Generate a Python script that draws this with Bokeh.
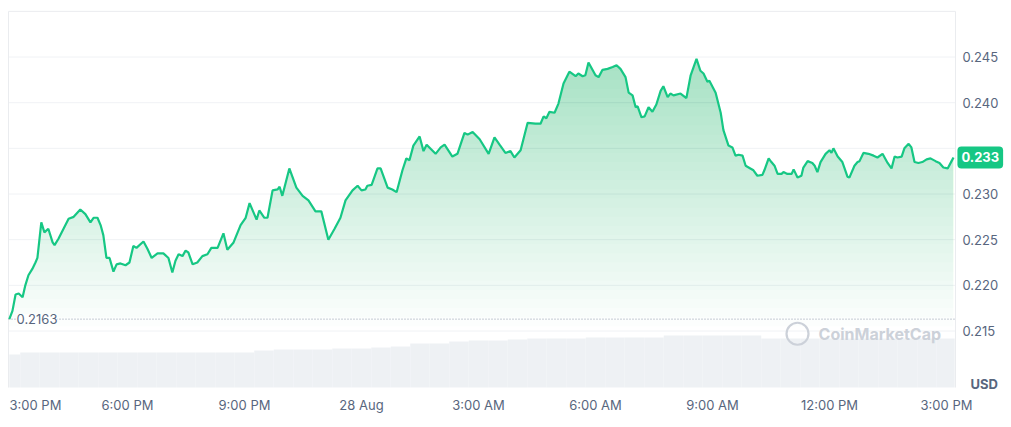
import numpy as np
from bokeh.plotting import figure
from bokeh.models import Range1d, Label
from bokeh.core.properties import value
from bokeh.embed import file_html
from bokeh.resources import INLINE

# ---- data (hours since 27 Aug 3:00 PM, price in USD) ----
hours = [
    -0.03, 0.05, 0.13, 0.21, 0.31, 0.38, 0.46, 0.56, 0.64, 0.69,
    0.79, 0.87, 0.97, 1.08, 1.13, 1.23, 1.36, 1.49, 1.62, 1.79,
    1.92, 2.05, 2.13, 2.23, 2.31, 2.38, 2.46, 2.54, 2.64, 2.72,
    2.82, 2.95, 3.05, 3.15, 3.23, 3.41, 3.51, 3.62, 3.77, 3.92,
    4.05, 4.15, 4.23, 4.31, 4.41, 4.49, 4.56, 4.67, 4.79, 4.92,
    5.05, 5.15, 5.31, 5.46, 5.56, 5.72, 5.90, 6.03, 6.13, 6.31,
    6.38, 6.51, 6.59, 6.72, 6.85, 6.90, 6.97, 7.15, 7.33, 7.49,
    7.64, 7.82, 7.97, 8.15, 8.31, 8.46, 8.59, 8.77, 8.90, 9.00,
    9.10, 9.15, 9.26, 9.41, 9.49, 9.67, 9.79, 9.90, 10.05, 10.15,
    10.23, 10.33, 10.49, 10.59, 10.67, 10.90, 11.03, 11.13, 11.33, 11.46,
    11.64, 11.72, 11.85, 12.03, 12.26, 12.41, 12.54, 12.69, 12.82, 12.92,
    13.08, 13.26, 13.46, 13.59, 13.67, 13.74, 13.82, 13.95, 14.05, 14.18,
    14.33, 14.49, 14.56, 14.67, 14.74, 14.82, 15.00, 15.08, 15.18, 15.31,
    15.44, 15.54, 15.64, 15.77, 15.85, 15.95, 16.03, 16.08, 16.18, 16.26,
    16.36, 16.46, 16.56, 16.67, 16.74, 16.85, 16.92, 17.00, 17.18, 17.33,
    17.44, 17.59, 17.69, 17.77, 17.87, 17.92, 18.08, 18.21, 18.28, 18.41,
    18.51, 18.59, 18.67, 18.77, 18.85, 18.97, 19.05, 19.15, 19.28, 19.33,
    19.44, 19.51, 19.59, 19.67, 19.77, 19.82, 19.92, 20.03, 20.08, 20.18,
    20.28, 20.33, 20.44, 20.56, 20.62, 20.69, 20.77, 20.90, 21.00, 21.05,
    21.10, 21.21, 21.33, 21.38, 21.46, 21.51, 21.64, 21.72, 21.77, 21.87,
    22.00, 22.13, 22.23, 22.36, 22.49, 22.59, 22.67, 22.74, 22.85, 22.92,
    23.03, 23.10, 23.18, 23.28, 23.38, 23.49, 23.59, 23.72, 23.82, 23.92,
    24.03, 24.13, 24.18,
]
prices = [
    0.2163, 0.2172, 0.2190, 0.2191, 0.2187, 0.2200, 0.2211, 0.2218, 0.2225, 0.2230,
    0.2269, 0.2258, 0.2262, 0.2247, 0.2244, 0.2251, 0.2262, 0.2273, 0.2275, 0.2283,
    0.2278, 0.2269, 0.2274, 0.2274, 0.2266, 0.2255, 0.2230, 0.2230, 0.2215, 0.2223,
    0.2224, 0.2222, 0.2225, 0.2243, 0.2241, 0.2248, 0.2240, 0.2230, 0.2235, 0.2235,
    0.2230, 0.2214, 0.2227, 0.2234, 0.2232, 0.2238, 0.2236, 0.2223, 0.2225, 0.2232,
    0.2234, 0.2241, 0.2241, 0.2257, 0.2239, 0.2247, 0.2266, 0.2274, 0.2290, 0.2272,
    0.2282, 0.2274, 0.2274, 0.2304, 0.2305, 0.2308, 0.2298, 0.2328, 0.2307, 0.2298,
    0.2293, 0.2281, 0.2281, 0.2250, 0.2262, 0.2274, 0.2293, 0.2304, 0.2309, 0.2304,
    0.2305, 0.2309, 0.2310, 0.2328, 0.2328, 0.2307, 0.2305, 0.2302, 0.2326, 0.2339,
    0.2337, 0.2353, 0.2363, 0.2347, 0.2354, 0.2344, 0.2351, 0.2354, 0.2341, 0.2344,
    0.2367, 0.2365, 0.2368, 0.2360, 0.2344, 0.2362, 0.2354, 0.2345, 0.2347, 0.2340,
    0.2348, 0.2378, 0.2377, 0.2377, 0.2385, 0.2383, 0.2390, 0.2389, 0.2399, 0.2421,
    0.2434, 0.2429, 0.2432, 0.2429, 0.2430, 0.2444, 0.2430, 0.2428, 0.2436, 0.2437,
    0.2439, 0.2441, 0.2437, 0.2428, 0.2411, 0.2408, 0.2395, 0.2396, 0.2384, 0.2385,
    0.2395, 0.2390, 0.2398, 0.2413, 0.2418, 0.2406, 0.2410, 0.2408, 0.2410, 0.2405,
    0.2430, 0.2448, 0.2435, 0.2432, 0.2423, 0.2424, 0.2411, 0.2389, 0.2370, 0.2353,
    0.2351, 0.2342, 0.2343, 0.2342, 0.2331, 0.2328, 0.2326, 0.2320, 0.2321, 0.2326,
    0.2339, 0.2335, 0.2331, 0.2322, 0.2322, 0.2324, 0.2322, 0.2322, 0.2327, 0.2318,
    0.2320, 0.2329, 0.2336, 0.2334, 0.2331, 0.2324, 0.2335, 0.2344, 0.2348, 0.2345,
    0.2350, 0.2341, 0.2335, 0.2329, 0.2319, 0.2318, 0.2331, 0.2335, 0.2336, 0.2345,
    0.2344, 0.2342, 0.2340, 0.2344, 0.2334, 0.2328, 0.2341, 0.2340, 0.2341, 0.2350,
    0.2355, 0.2351, 0.2335, 0.2334, 0.2335, 0.2338, 0.2339, 0.2336, 0.2334, 0.2329,
    0.2328, 0.2336, 0.2340,
]
vol_hours = [
    0.0, 0.5, 1.0, 1.5, 2.0, 2.5, 3.0, 3.5, 4.0, 4.5,
    5.0, 5.5, 6.0, 6.5, 7.0, 7.5, 8.0, 8.5, 9.0, 9.5,
    10.0, 10.5, 11.0, 11.5, 12.0, 12.5, 13.0, 13.5, 14.0, 14.5,
    15.0, 15.5, 16.0, 16.5, 17.0, 17.5, 18.0, 18.5, 19.0, 19.5,
    20.0, 20.5, 21.0, 21.5, 22.0, 22.5, 23.0, 23.5, 24.0,
]
volumes_m = [
    99, 105, 105, 105, 105, 105, 105, 105, 105, 105,
    105, 105, 105, 111, 114, 114, 114, 117, 117, 120,
    123, 132, 132, 138, 141, 141, 144, 147, 147, 147,
    150, 150, 150, 150, 156, 156, 156, 156, 156, 147,
    147, 147, 147, 147, 147, 147, 147, 147, 147,
]
x_tick_hours = [0, 3, 6, 9, 12, 15, 18, 21, 24]
x_tick_labels = ["3:00 PM", "6:00 PM", "9:00 PM", "28 Aug", "3:00 AM",
                 "6:00 AM", "9:00 AM", "12:00 PM", "3:00 PM"]
y_ticks = [0.215, 0.22, 0.225, 0.23, 0.235, 0.24, 0.245]
y_top = 0.250
open_price = 0.2163
last_price_text = "0.233"

n = min(len(hours), len(prices))
hours = hours[:n]
prices = prices[:n]

GREEN = "#16c784"
FILL_GREEN = "#14c072"
GREY = "#58667e"
GRID = "#f0f2f5"
BORDER = "#eaecef"
FONT = "Inter"

# chart area limits (x in hours, y in USD)
X_LEFT, X_RIGHT = -0.051, 24.23
Y_BOTTOM = 0.20881

W, H = 1005, 421
p = figure(width=W, height=H, output_backend="svg", toolbar_location=None,
           x_range=Range1d(-10 / 39, (W - 10) / 39),
           y_range=Range1d(0.25119 - 0.0001095 * H, 0.25119),
           min_border=0)
p.axis.visible = False
p.grid.visible = False
p.outline_line_color = None
p.background_fill_color = "white"
p.border_fill_color = "white"

# grid lines and chart border
p.segment(x0=X_LEFT, x1=X_RIGHT, y0=y_ticks, y1=y_ticks, line_color=GRID, line_width=1)
p.segment(x0=[X_LEFT], x1=[X_RIGHT], y0=[y_top], y1=[y_top], line_color=BORDER, line_width=1)
p.segment(x0=[X_LEFT, X_RIGHT], x1=[X_LEFT, X_RIGHT], y0=[Y_BOTTOM, Y_BOTTOM],
          y1=[y_top, y_top], line_color=BORDER, line_width=1)

# volume bars
p.extra_y_ranges = {"vol": Range1d(-(H - 387) * 3, 387 * 3)}
vh = np.array(vol_hours)
p.quad(left=np.maximum(vh - 0.25, X_LEFT + 0.02), right=np.minimum(vh + 0.25, X_RIGHT - 0.02),
       bottom=0, top=volumes_m, y_range_name="vol",
       fill_color="#eef1f4", line_color=None)

# gradient area under the price line (stacked translucent layers)
pr = np.array(prices)
for level in np.arange(0.2155, 0.2455, 0.001):
    p.varea(x=hours, y1=level, y2=np.maximum(pr, level),
            fill_color=FILL_GREEN, fill_alpha=0.0125)

# opening price reference
p.segment(x0=[X_LEFT], x1=[X_RIGHT], y0=[open_price], y1=[open_price],
          line_color="#8f99ab", line_width=1, line_dash="1 2")
p.add_layout(Label(x=0.154, y=open_price, text=f"{open_price:.4f}",
                   text_baseline="middle", text_align="left",
                   text_color=GREY, text_font=FONT, text_font_size="13px",
                   background_fill_color="white"))

# price line
p.line(hours, prices, line_color=GREEN, line_width=2.2)

# watermark
p.scatter([20.18], [0.2147], marker="circle", size=22, fill_color=None,
          line_color="#ccd1d9", line_width=2.2)
p.add_layout(Label(x=20.72, y=0.2147, text="CoinMarketCap", text_baseline="middle",
                   text_align="left", text_color="#ccd1d9", text_font=FONT,
                   text_font_size="16px", text_font_style="bold"))

# y tick labels (right side)
ylab_ticks = [t for t in y_ticks if t != 0.235]
p.text(x=[24.41] * len(ylab_ticks), y=ylab_ticks, text=[f"{t:.3f}" for t in ylab_ticks],
       text_baseline="middle", text_align="left", text_color=GREY,
       text_font=value(FONT), text_font_size="13px")

# x tick labels (bottom)
X_LAB_Y = 0.20695
p.text(x=x_tick_hours[1:], y=[X_LAB_Y] * (len(x_tick_hours) - 1), text=x_tick_labels[1:],
       text_baseline="middle", text_align="center", text_color=GREY,
       text_font=value(FONT), text_font_size="13px")
p.text(x=[-0.0256], y=[X_LAB_Y], text=[x_tick_labels[0]],
       text_baseline="middle", text_align="left", text_color=GREY,
       text_font=value(FONT), text_font_size="13px")

# currency unit
p.text(x=[24.615], y=[0.20925], text=["USD"], text_baseline="middle", text_align="left",
       text_color=GREY, text_font=value(FONT), text_font_size="13px",
       text_font_style="bold")

# last price tag
p.add_layout(Label(x=24.28, y=prices[-1], text=last_price_text,
                   text_baseline="middle", text_align="left", text_color="white",
                   text_font=FONT, text_font_size="13px", text_font_style="bold",
                   background_fill_color=GREEN, border_radius=4,
                   padding=dict(left=4, right=4, top=6, bottom=6)))

open("out.html", "w").write(file_html(p, INLINE))
